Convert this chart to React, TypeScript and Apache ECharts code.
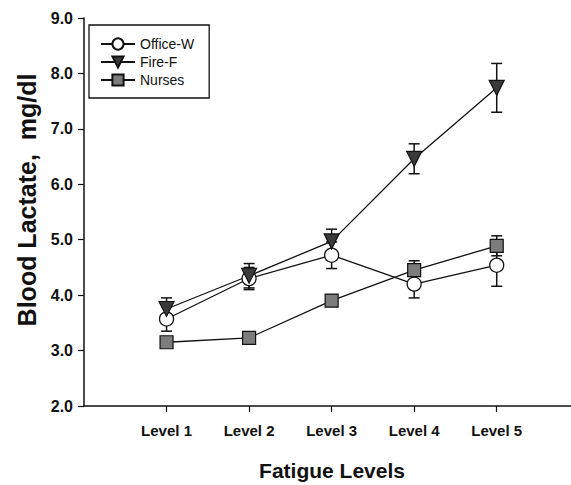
import React, { useEffect, useRef } from "react";
import * as echarts from "echarts";

const categories = ["Level 1", "Level 2", "Level 3", "Level 4", "Level 5"];
const levelPositions = [1, 2, 3, 4, 5];
const yTicks = [2, 3, 4, 5, 6, 7, 8, 9];

const officeW = [3.57, 4.3, 4.72, 4.2, 4.54];
const officeWErr = [0.22, 0.2, 0.24, 0.25, 0.38];
const fireF = [3.75, 4.35, 4.97, 6.46, 7.74];
const fireFErr = [0.2, 0.22, 0.22, 0.27, 0.44];
const nurses = [3.15, 3.23, 3.9, 4.45, 4.89];
const nursesErr = [0.08, 0.05, 0.1, 0.17, 0.18];

const FONT = "Liberation Sans, Arial, sans-serif";

function pairs(vals: number[]) {
  return vals.map((v, i) => [levelPositions[i], v]);
}
function errData(vals: number[], errs: number[]) {
  return vals.map((v, i) => [levelPositions[i], v - errs[i], v + errs[i]]);
}

function errorSeries(name: string, vals: number[], errs: number[]) {
  return {
    type: "custom",
    name: name + "-err",
    z: 1,
    silent: true,
    encode: { x: 0, y: [1, 2] },
    data: errData(vals, errs),
    renderItem: (params: any, api: any) => {
      const x = api.value(0);
      const lo = api.coord([x, api.value(1)]);
      const hi = api.coord([x, api.value(2)]);
      const cap = 5.5;
      const style = { stroke: "#111", lineWidth: 1.5, fill: "none" };
      return {
        type: "group",
        children: [
          { type: "line", shape: { x1: lo[0], y1: lo[1], x2: hi[0], y2: hi[1] }, style },
          { type: "line", shape: { x1: lo[0] - cap, y1: lo[1], x2: lo[0] + cap, y2: lo[1] }, style },
          { type: "line", shape: { x1: hi[0] - cap, y1: hi[1], x2: hi[0] + cap, y2: hi[1] }, style },
        ],
      };
    },
  };
}

export default function App() {
  const ref = useRef<HTMLDivElement>(null);
  useEffect(() => {
    if (!ref.current) return;
    const chart = echarts.init(ref.current, undefined, { renderer: "svg" });
    const lineCommon = {
      type: "line",
      z: 3,
      lineStyle: { color: "#111", width: 1.3 },
    };
    chart.setOption({
      animation: false,
      backgroundColor: "#fff",
      textStyle: { fontFamily: FONT },
      grid: { left: 84, right: 0, top: 18, bottom: 79, containLabel: false },
      legend: {
        orient: "vertical",
        left: 89,
        top: 25,
        data: ["Office-W", "Fire-F", "Nurses"],
        itemWidth: 34,
        itemHeight: 14,
        itemGap: 4,
        padding: [12, 15, 11, 11],
        borderColor: "#111",
        borderWidth: 1.3,
        backgroundColor: "#fff",
        textStyle: { fontFamily: FONT, fontSize: 14, color: "#111" },
      },
      xAxis: {
        type: "value",
        min: 0,
        max: 5.9,
        interval: 1,
        splitLine: { show: false },
        axisLine: { lineStyle: { color: "#111", width: 1.5 } },
        axisTick: { show: true, length: 6, customValues: levelPositions, lineStyle: { color: "#111", width: 1.2 } },
        axisLabel: {
          customValues: levelPositions,
          margin: 17,
          fontFamily: FONT,
          fontSize: 15,
          fontWeight: "bold",
          color: "#111",
          formatter: (v: number) => categories[Math.round(v) - 1] ?? "",
        },
      },
      yAxis: {
        type: "value",
        min: 2,
        max: 9,
        interval: 1,
        splitLine: { show: false },
        axisLine: { show: true, lineStyle: { color: "#111", width: 1.5 } },
        axisTick: { show: true, length: 6, customValues: yTicks, lineStyle: { color: "#111", width: 1.2 } },
        axisLabel: {
          margin: 11,
          fontFamily: FONT,
          fontSize: 16,
          fontWeight: "bold",
          color: "#111",
          formatter: (v: number) => v.toFixed(1),
        },
      },
      graphic: [
        {
          type: "text",
          x: 27,
          y: 200,
          rotation: Math.PI / 2,
          style: {
            text: "Blood Lactate,  mg/dl",
            fontFamily: FONT,
            fontSize: 25,
            fontWeight: "bold",
            fill: "#111",
            align: "center",
            verticalAlign: "middle",
          },
        },
        {
          type: "text",
          x: 332,
          y: 470,
          style: {
            text: "Fatigue Levels",
            fontFamily: FONT,
            fontSize: 21,
            fontWeight: "bold",
            fill: "#111",
            align: "center",
            verticalAlign: "middle",
          },
        },
      ],
      series: [
        errorSeries("Office-W", officeW, officeWErr),
        errorSeries("Fire-F", fireF, fireFErr),
        errorSeries("Nurses", nurses, nursesErr),
        {
          ...lineCommon,
          name: "Office-W",
          data: pairs(officeW),
          symbol: "circle",
          symbolSize: 14,
          itemStyle: { color: "#fff", borderColor: "#111", borderWidth: 1.3 },
        },
        {
          ...lineCommon,
          name: "Fire-F",
          data: pairs(fireF),
          symbol: "triangle",
          symbolRotate: 180,
          symbolSize: 15,
          itemStyle: { color: "#3a3a3a", borderColor: "#111", borderWidth: 1.2 },
        },
        {
          ...lineCommon,
          name: "Nurses",
          data: pairs(nurses),
          symbol: "rect",
          symbolSize: 13,
          itemStyle: { color: "#7c7c7c", borderColor: "#111", borderWidth: 1.2 },
        },
      ],
    });
    return () => chart.dispose();
  }, []);
  return (
    <div
      ref={ref}
      style={{ position: "fixed", left: 0, top: 0, width: 571, height: 485, background: "#fff" }}
    />
  );
}
